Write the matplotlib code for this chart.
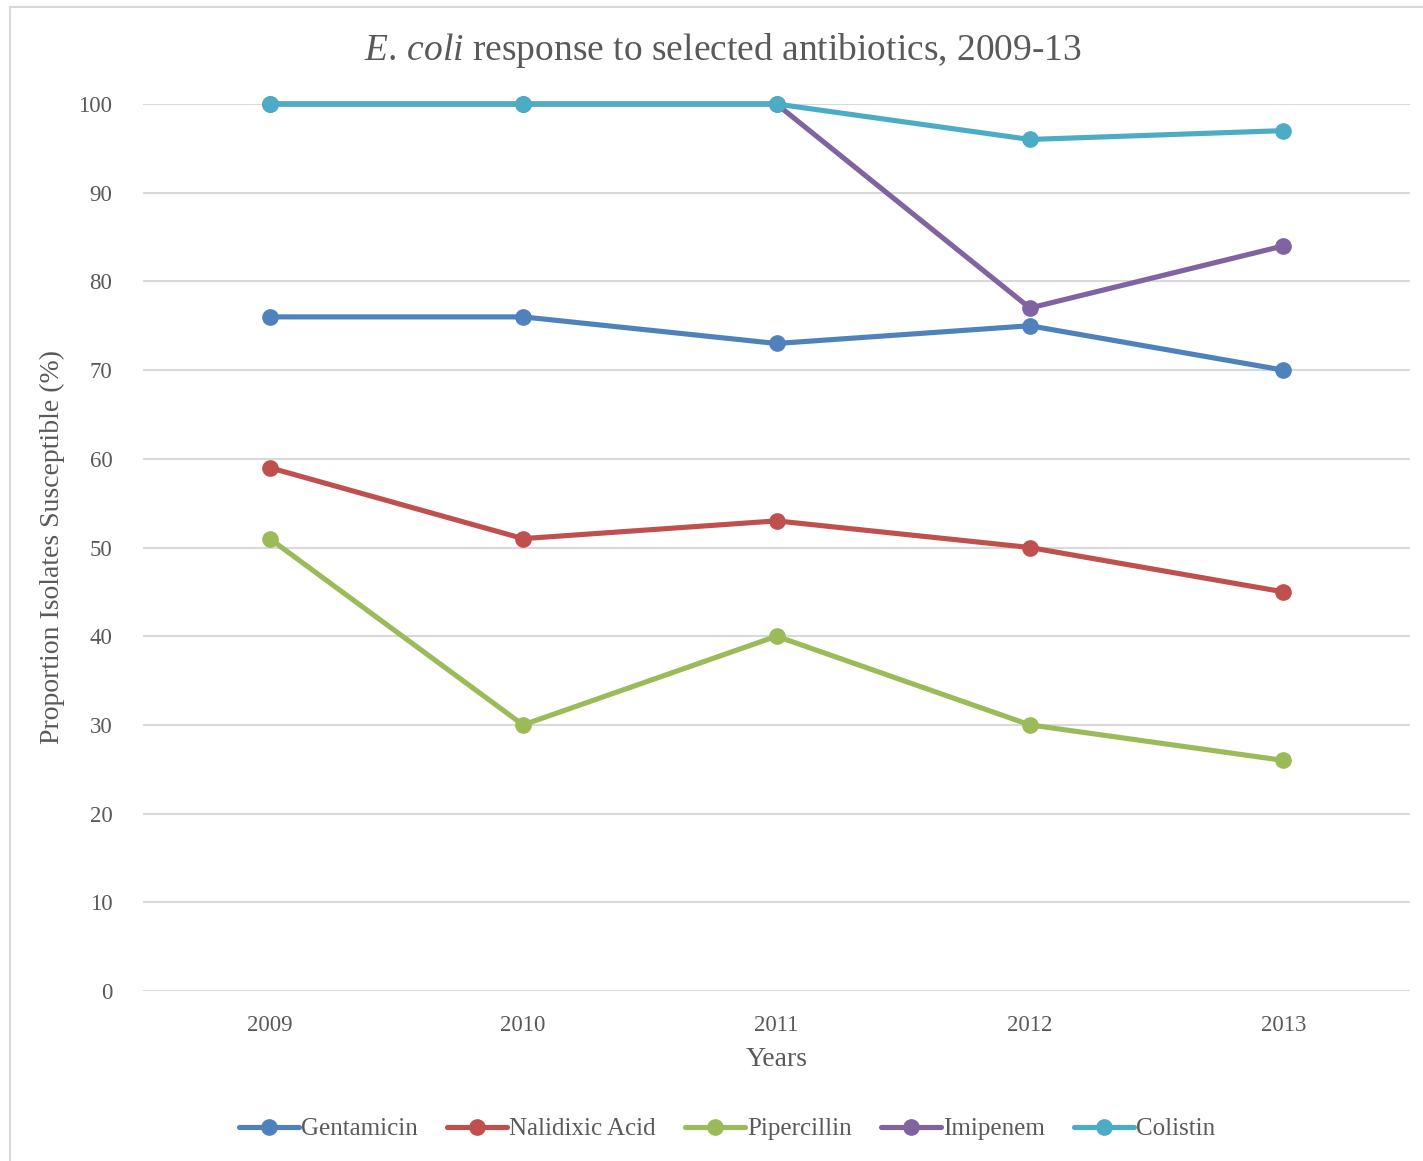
import matplotlib
matplotlib.use("Agg")
import matplotlib.pyplot as plt
from matplotlib.patches import Rectangle

years = ["2009", "2010", "2011", "2012", "2013"]
gentamicin = [76, 76, 73, 75, 70]
nalidixic = [59, 51, 53, 50, 45]
pipercillin = [51, 30, 40, 30, 26]
imipenem = [100, 100, 100, 77, 84]
colistin = [100, 100, 100, 96, 97]

series = [
    ("Gentamicin", gentamicin, "#4F81BD"),
    ("Nalidixic Acid", nalidixic, "#C0504D"),
    ("Pipercillin", pipercillin, "#9BBB59"),
    ("Imipenem", imipenem, "#8064A2"),
    ("Colistin", colistin, "#4BACC6"),
]

plt.rcParams['font.family'] = ['Liberation Serif', 'DejaVu Serif']
plt.rcParams['mathtext.fontset'] = 'custom'
plt.rcParams['mathtext.rm'] = 'Liberation Serif'
plt.rcParams['mathtext.it'] = 'Liberation Serif:italic'
txt = "#595959"

fig = plt.figure(figsize=(14.23, 11.61), dpi=100)
fig.patches.append(Rectangle((10 / 1423, -0.1), 1.2, 1.1 - 7 / 1161,
                             transform=fig.transFigure, fill=False,
                             edgecolor="#D9D9D9", linewidth=1.5))
ax = fig.add_axes([143 / 1423, 1 - 991 / 1161, (1410 - 143) / 1423, 887 / 1161])

x = list(range(len(years)))
for name, vals, col in series:
    ax.plot(x, vals, color=col, lw=3.7, marker="o", markersize=11,
            solid_capstyle="round", label=name, zorder=3, clip_on=False)

ax.set_xlim(-0.5, 4.5)
ax.set_ylim(0, 100)
ax.set_yticks(range(0, 101, 10))
ax.set_xticks(x)
ax.set_xticklabels(years)
ax.grid(axis="y", color="#D9D9D9", lw=1.5)
ax.set_axisbelow(True)
for s in ax.spines.values():
    s.set_visible(False)
ax.tick_params(length=0, labelsize=16.5, colors=txt, pad=17)
ax.tick_params(axis="y", pad=22)

fig.text(723 / 1423, 1 - 50 / 1161,
         r"$\it{E.\,coli}$ response to selected antibiotics, 2009-13",
         fontsize=27, color=txt, ha="center", va="center")
ax.set_xlabel("Years", fontsize=20, color=txt, labelpad=8)
ax.set_ylabel("Proportion Isolates Susceptible (%)", fontsize=20, color=txt, labelpad=10)

leg = ax.legend(loc="center", bbox_to_anchor=(727 / 1423, 1 - 1129 / 1161),
                bbox_transform=fig.transFigure, ncol=5, frameon=False,
                fontsize=18, labelcolor=txt, handlelength=2.4, handletextpad=0.1,
                columnspacing=1.15)

fig.savefig("out.png", dpi=100)
